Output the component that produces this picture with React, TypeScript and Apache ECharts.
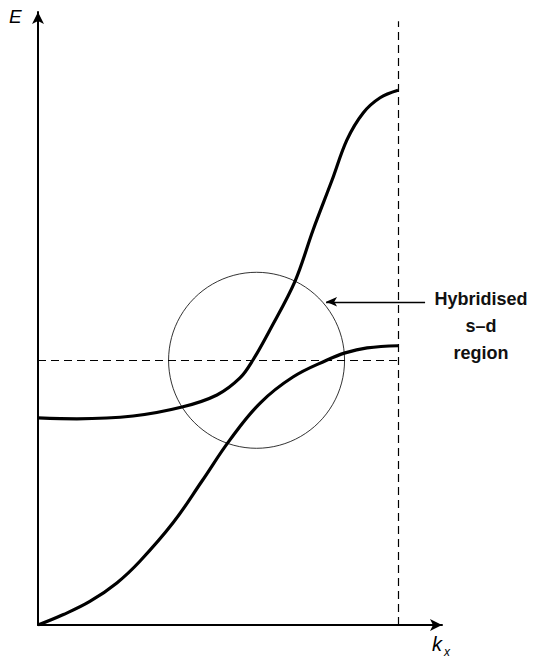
import React, { useEffect, useRef } from "react";
import * as echarts from "echarts";

// Band structure sketch: E versus k_x, two bands hybridising near E_F.
const upperBandK = [0, 1.08, 2.64, 4.0, 4.97, 5.61, 5.97, 6.44, 7.14, 7.64, 8.17, 8.58, 9.03, 9.5, 10];
const upperBandE = [6.69, 6.66, 6.75, 7.04, 7.43, 7.98, 8.56, 9.53, 11.11, 12.76, 14.38, 15.67, 16.54, 17.03, 17.27];

const lowerBandK = [0, 0.69, 1.44, 2.19, 2.83, 3.75, 4.56, 5.33, 6.17, 7.08, 8.03, 8.53, 9.14, 10];
const lowerBandE = [0, 0.33, 0.76, 1.36, 2.06, 3.3, 4.66, 5.98, 7.17, 8.01, 8.56, 8.79, 8.95, 9.02];

const fermiEnergy = 8.55;
const zoneBoundary = 10;
const regionCentre = [6.07, fermiEnergy];
const regionLabel = ["Hybridised", "s\u2013d", "region"];

const kMax = 11.22;
const eMax = 19.8;

export default function App() {
  const ref = useRef<HTMLDivElement>(null);

  useEffect(() => {
    if (!ref.current) return;
    const chart = echarts.init(ref.current, null, { renderer: "svg" });

    const upper = upperBandK.map((k, i) => [k, upperBandE[i]]);
    const lower = lowerBandK.map((k, i) => [k, lowerBandE[i]]);

    const axisLine = {
      show: true,
      symbol: ["none", "arrow"],
      symbolSize: [9, 12],
      lineStyle: { color: "#000", width: 2 },
    };

    const dashed = { color: "#000", width: 1.2, type: [8, 5] as number[] };

    chart.setOption({
      animation: false,
      grid: { left: 38, right: 92, top: 12, bottom: 34 },
      xAxis: {
        type: "value",
        min: 0,
        max: kMax,
        axisLine,
        axisTick: { show: false },
        axisLabel: { show: false },
        splitLine: { show: false },
      },
      yAxis: {
        type: "value",
        min: 0,
        max: eMax,
        axisLine,
        axisTick: { show: false },
        axisLabel: { show: false },
        splitLine: { show: false },
      },
      series: [
        {
          type: "line",
          data: upper,
          smooth: 0.35,
          showSymbol: false,
          lineStyle: { color: "#000", width: 3.2 },
          z: 3,
        },
        {
          type: "line",
          data: lower,
          smooth: 0.4,
          showSymbol: false,
          lineStyle: { color: "#000", width: 3.2 },
          z: 3,
          markLine: {
            silent: true,
            symbol: ["none", "none"],
            label: { show: false },
            data: [
              [
                { coord: [0, fermiEnergy], lineStyle: dashed },
                { coord: [zoneBoundary, fermiEnergy] },
              ],
              [
                { coord: [zoneBoundary, 0], lineStyle: dashed },
                { coord: [zoneBoundary, 19.5] },
              ],
              [
                {
                  coord: [10.75, 10.44],
                  lineStyle: { color: "#000", width: 1.3, type: "solid" },
                },
                { coord: [8.0, 10.44], symbol: "arrow", symbolSize: [7, 11] },
              ],
            ],
          },
        },
        {
          type: "scatter",
          data: [regionCentre],
          symbol: "circle",
          symbolSize: 176,
          silent: true,
          itemStyle: { color: "rgba(0,0,0,0)", borderColor: "#000", borderWidth: 1 },
          z: 2,
        },
      ],
      graphic: [
        {
          type: "text",
          left: 9,
          top: 7,
          style: {
            text: "E",
            fontFamily: "Liberation Sans",
            fontStyle: "italic",
            fontSize: 19,
            fill: "#000",
          },
        },
        {
          type: "text",
          left: 432,
          top: 634,
          style: {
            text: "k",
            fontFamily: "Liberation Sans",
            fontStyle: "italic",
            fontSize: 20,
            fill: "#000",
          },
        },
        {
          type: "text",
          left: 444,
          top: 646,
          style: {
            text: "x",
            fontFamily: "Liberation Sans",
            fontStyle: "italic",
            fontSize: 12,
            fill: "#000",
          },
        },
        {
          type: "text",
          x: 481,
          y: 285,
          style: {
            text: regionLabel.join("\n"),
            fontFamily: "Liberation Sans",
            fontWeight: "bold",
            fontSize: 18,
            lineHeight: 27,
            align: "center",
            verticalAlign: "top",
            fill: "#111",
          },
        },
      ],
    });

    return () => chart.dispose();
  }, []);

  return (
    <div
      ref={ref}
      style={{ position: "fixed", left: 0, top: 0, width: 534, height: 659, background: "#fff" }}
    />
  );
}
